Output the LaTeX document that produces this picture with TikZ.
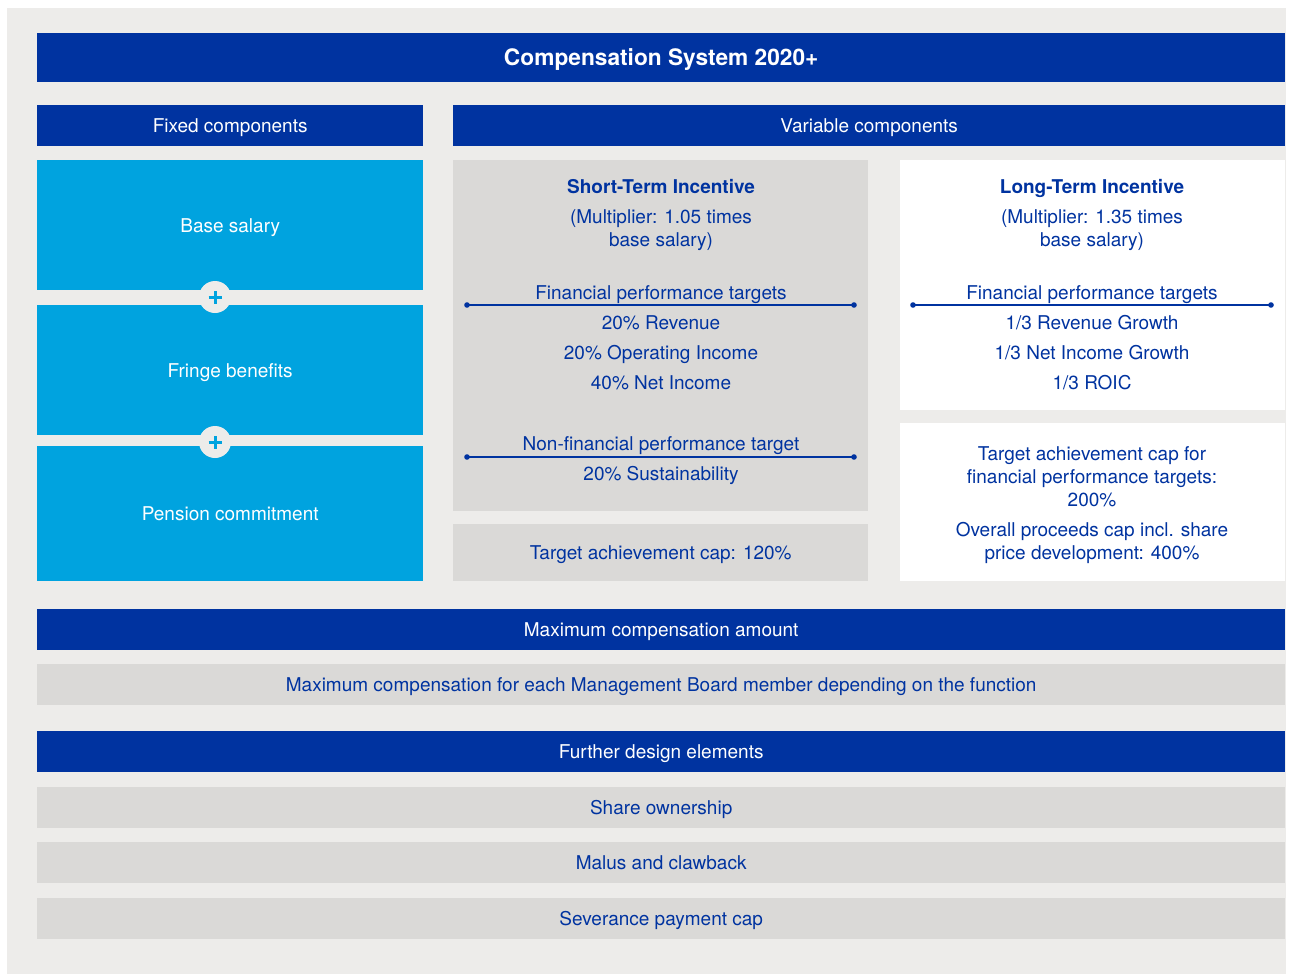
\documentclass[tikz,border=0pt]{standalone}
\usepackage{fontspec}
\setmainfont{TeX Gyre Heros}
\usetikzlibrary{positioning}
\definecolor{darkblue}{RGB}{0,51,160}
\definecolor{lightblue}{RGB}{0,163,223}
\definecolor{bggray}{RGB}{237,236,234}
\definecolor{boxgray}{RGB}{218,217,215}

\begin{document}
\begin{tikzpicture}[x=1pt,y=-1pt,
  every node/.style={inner sep=0pt,font=\fontsize{19}{23}\selectfont},
  panel/.style={anchor=north west,text height=13.6pt,text depth=0pt},
  head/.style={panel,fill=darkblue,text=white},
  fixbox/.style={panel,fill=lightblue,text=white,minimum width=386pt},
  row/.style={panel,fill=boxgray,text=darkblue,minimum width=1248pt,minimum height=41pt},
  txt/.style={anchor=base,text=darkblue,align=center},
  sep/.style={darkblue,line width=1.3pt},
  plus/.style={circle,fill=bggray,minimum size=32pt}]
  \useasboundingbox (0,0) rectangle (1296,974);
  \fill[bggray] (7,8) rectangle (1286,974);

  \node[head,minimum width=1248pt,minimum height=49pt,text height=16.3pt,
    font=\fontsize{22.7}{27}\selectfont\bfseries] (title) at (37,33) {Compensation System 2020+};
  \node[head,minimum width=386pt,minimum height=41pt] (fixhead) at (37,105) {Fixed components};
  \node[head,minimum width=832pt,minimum height=41pt] (varhead) at (453,105) {Variable components};

  % fixed components
  \node[fixbox,minimum height=130pt] (base) at (37,160) {Base salary};
  \node[fixbox,minimum height=130pt] (fringe) at (37,305) {Fringe benefits};
  \node[fixbox,minimum height=135pt] (pension) at (37,446) {Pension commitment};
  \foreach \n/\y in {plusa/297,plusb/442}{
    \node[plus] (\n) at (215,\y) {};
    \draw[lightblue,line width=3pt] ([xshift=-6.5pt]\n.center) -- ([xshift=6.5pt]\n.center);
    \draw[lightblue,line width=3pt] ([yshift=-6.5pt]\n.center) -- ([yshift=6.5pt]\n.center);
  }

  % short-term incentive
  \node[panel,fill=boxgray,minimum width=415pt,minimum height=351pt] (sti) at (453,160) {};
  \node[panel,fill=boxgray,text=darkblue,minimum width=415pt,minimum height=57pt] (sticap) at (453,524) {Target achievement cap: 120\%};
  \node[txt,font=\fontsize{19}{23}\selectfont\bfseries] (stititle) at (661,193) {Short-Term Incentive};
  \node[txt] (stimult) at (661,246) {(Multiplier: 1.05 times\\base salary)};
  \node[txt] (stifin) at (661,299) {Financial performance targets};
  \coordinate (stial) at (467,305);
  \coordinate (stiar) at (854,305);
  \draw[sep] (stial) -- (stiar);
  \node[txt] (stirev) at (661,329) {20\% Revenue};
  \node[txt] (stiop) at (661,359) {20\% Operating Income};
  \node[txt] (stinet) at (661,389) {40\% Net Income};
  \node[txt] (stinon) at (661,450) {Non-financial performance target};
  \coordinate (stibl) at (467,457);
  \coordinate (stibr) at (854,457);
  \draw[sep] (stibl) -- (stibr);
  \node[txt] (stisus) at (661,480) {20\% Sustainability};

  % long-term incentive
  \node[panel,fill=white,minimum width=385pt,minimum height=250pt] (lti) at (900,160) {};
  \node[panel,fill=white,minimum width=385pt,minimum height=158pt] (lticap) at (900,423) {};
  \node[txt,font=\fontsize{19}{23}\selectfont\bfseries] (ltititle) at (1092,193) {Long-Term Incentive};
  \node[txt] (ltimult) at (1092,246) {(Multiplier: 1.35 times\\base salary)};
  \node[txt] (ltifin) at (1092,299) {Financial performance targets};
  \coordinate (ltial) at (913,305);
  \coordinate (ltiar) at (1271,305);
  \draw[sep] (ltial) -- (ltiar);
  \node[txt] (ltirev) at (1092,329) {1/3 Revenue Growth};
  \node[txt] (ltinet) at (1092,359) {1/3 Net Income Growth};
  \node[txt] (ltiroic) at (1092,389) {1/3 ROIC};
  \node[txt] (lticapa) at (1092,506) {Target achievement cap for\\financial performance targets:\\200\%};
  \node[txt] (lticapb) at (1092,559) {Overall proceeds cap incl. share\\price development: 400\%};
  \foreach \c in {stial,stiar,stibl,stibr,ltial,ltiar}
    \fill[darkblue] (\c) circle[radius=2.8pt];

  % maximum and further elements
  \node[head,minimum width=1248pt,minimum height=41pt] (maxhead) at (37,609) {Maximum compensation amount};
  \node[row] (maxrow) at (37,664) {Maximum compensation for each Management Board member depending on the function};
  \node[head,minimum width=1248pt,minimum height=41pt] (furtherhead) at (37,731) {Further design elements};
  \node[row] (share) at (37,787) {Share ownership};
  \node[row] (malus) at (37,842) {Malus and clawback};
  \node[row] (severance) at (37,898) {Severance payment cap};
\end{tikzpicture}
\end{document}
